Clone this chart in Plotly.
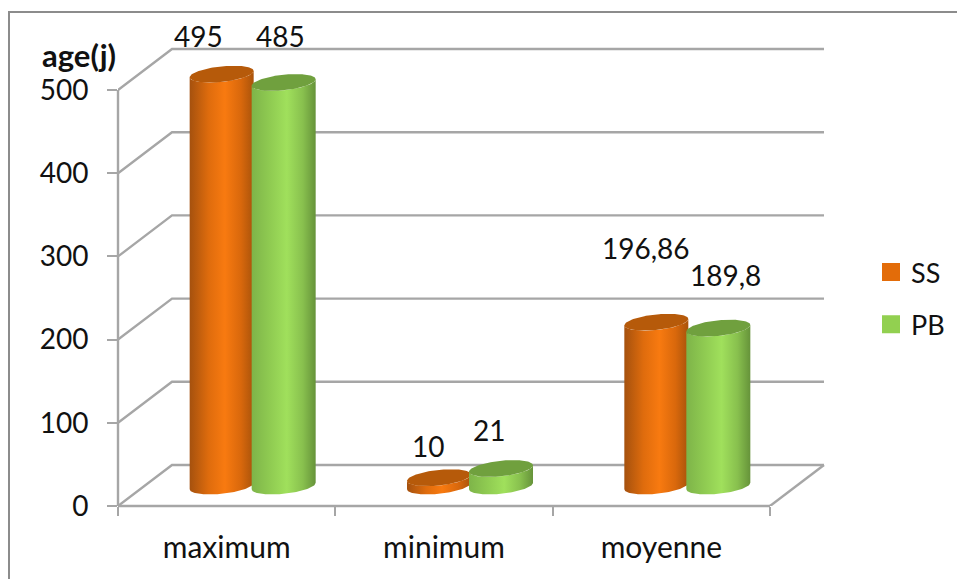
import numpy as np
import plotly.graph_objects as go

# Chart data
categories = ["maximum", "minimum", "moyenne"]
ss_values = [495, 10, 196.86]
pb_values = [485, 21, 189.8]
y_ticks = [0, 100, 200, 300, 400, 500]

# Page geometry (pixels)
W, H = 957, 579
LEFT, RIGHT, TOP, BOTTOM = 118, 834, 40, 506
PX_PER_CAT = (770 - 118) / 3
PX_PER_UNIT = 416 / 500
X_MAX = (RIGHT - LEFT) / PX_PER_CAT
Y_MAX = (BOTTOM - TOP) / PX_PER_UNIT

def dx(px):
    return px / PX_PER_CAT

def dy(px):
    return px / PX_PER_UNIT

def paper_x(px):
    return (px - LEFT) / (RIGHT - LEFT)

def paper_y(py):
    return (BOTTOM - py) / (BOTTOM - TOP)

# Oblique projection of the floor depth
WALL_X, WALL_Y = dx(54), dy(41)
MID_X, MID_Y = dx(26.5), dy(20)

# Cylinder proportions
RX = dx(32)
RY = dy(7.8)
TILT = dy(3.2)

GRID = "#a6a6a6"
FONT = "Lato, Carlito, Calibri, sans-serif"
TEXT = "#111111"

SERIES = [
    dict(name="SS", values=ss_values, swatch="#e36c09", top="#b65a0a", shift=-31.5,
         scale=[[0, "#a5510e"], [0.3, "#df6c0d"], [0.55, "#f87a10"], [0.8, "#d9680c"], [1, "#a9530b"]]),
    dict(name="PB", values=pb_values, swatch="#92d050", top="#70a03e", shift=30.5,
         scale=[[0, "#7eb449"], [0.3, "#90cc52"], [0.55, "#a0e05c"], [0.8, "#88c04e"], [1, "#66933a"]]),
]

fig = go.Figure()

def add_line(xs, ys):
    fig.add_trace(go.Scatter(x=xs, y=ys, mode="lines", showlegend=False, hoverinfo="skip",
                             cliponaxis=False, line=dict(color=GRID, width=2.4)))

# Back wall gridlines with their floor-side returns
for v in y_ticks:
    add_line([0, WALL_X, WALL_X + 3], [v, v + WALL_Y, v + WALL_Y])
# Right floor edge
add_line([3, 3 + WALL_X], [0, WALL_Y])

def ellipse(cx, base, t):
    return cx + RX * np.cos(t), base + RY * np.sin(t) + TILT * np.cos(t)

def add_cylinder(cat_idx, value, s):
    cx = cat_idx + 0.5 + MID_X + dx(s["shift"])
    y0 = MID_Y
    y1 = MID_Y + value
    t_low = np.linspace(np.pi, 2 * np.pi, 60)
    xb, yb = ellipse(cx, y0, t_low)
    xt, yt = ellipse(cx, y1, t_low[::-1])
    fig.add_trace(go.Scatter(
        x=np.concatenate([xb, xt]), y=np.concatenate([yb, yt]),
        mode="lines", fill="toself", line=dict(width=0), cliponaxis=False,
        fillgradient=dict(type="horizontal", colorscale=s["scale"]),
        showlegend=False, hoverinfo="skip"))
    t_all = np.linspace(0, 2 * np.pi, 120)
    xe, ye = ellipse(cx, y1, t_all)
    fig.add_trace(go.Scatter(
        x=xe, y=ye, mode="lines", fill="toself", fillcolor=s["top"], cliponaxis=False,
        line=dict(width=0), showlegend=False, hoverinfo="skip"))

for i in range(len(categories)):
    for s in SERIES:
        add_cylinder(i, s["values"][i], s)

# Legend entries
for s in SERIES:
    fig.add_trace(go.Scatter(x=[None], y=[None], mode="markers", name=s["name"],
                             legendgroup=s["name"],
                             marker=dict(symbol="square", size=16, color=s["swatch"],
                                         line=dict(width=2, color=s["swatch"]))))

# Value labels: pixel offsets from each cylinder's top centre
label_shift = {
    "SS": [(-23, 38), (-11, 32), (-10, 74)],
    "PB": [(-3, 46), (-12, 39), (7, 53)],
}
annotations = []
for s in SERIES:
    for i, v in enumerate(s["values"]):
        ox, oy = label_shift[s["name"]][i]
        annotations.append(dict(
            x=i + 0.5 + MID_X + dx(s["shift"]), y=v + MID_Y, xref="x", yref="y",
            xanchor="center", yanchor="middle",
            xshift=ox, yshift=oy, text=str(v).replace(".", ","), showarrow=False,
            font=dict(family=FONT, size=28, color=TEXT)))
annotations.append(dict(
    x=paper_x(79), y=paper_y(55), xref="paper", yref="paper",
    xanchor="center", yanchor="middle", text="<b>age(j)</b>", showarrow=False,
    font=dict(family=FONT, size=31, color=TEXT)))

fig.update_layout(
    width=W, height=H, autosize=False,
    margin=dict(l=LEFT, r=W - RIGHT, t=TOP, b=H - BOTTOM, pad=0, autoexpand=False),
    paper_bgcolor="white", plot_bgcolor="rgba(0,0,0,0)",
    font=dict(family=FONT, size=28, color=TEXT),
    xaxis=dict(range=[0, X_MAX], showgrid=False, zeroline=False, showline=False,
               tickmode="array", tickvals=[0.5, 1.5, 2.5], ticktext=categories,
               ticks="", ticklabelstandoff=21, fixedrange=True,
               tickfont=dict(family=FONT, size=30, color=TEXT),
               minor=dict(tickmode="array", tickvals=[0, 1, 2, 3], ticks="outside",
                          ticklen=9, tickwidth=2.4, tickcolor=GRID, showgrid=False)),
    yaxis=dict(range=[0, Y_MAX], showgrid=False, zeroline=False, showline=False,
               tickmode="array", tickvals=y_ticks, ticks="outside", ticklen=10,
               tickwidth=2.4, tickcolor=GRID, ticklabelstandoff=13, fixedrange=True),
    legend=dict(x=paper_x(871), y=paper_y(248), xanchor="left", yanchor="top",
                tracegroupgap=14, font=dict(family=FONT, size=27, color=TEXT),
                bgcolor="rgba(0,0,0,0)", itemwidth=30),
    annotations=annotations,
    shapes=[
        # Outer frame
        dict(type="rect", xref="paper", yref="paper",
             x0=paper_x(9), x1=paper_x(W + 10), y0=paper_y(H + 10), y1=paper_y(12),
             line=dict(color="#8c8c8c", width=2), layer="below"),
        # Value axis and front floor edge sit on the plot boundary
        dict(type="line", xref="paper", yref="y", x0=0, x1=0, y0=0, y1=y_ticks[-1],
             line=dict(color=GRID, width=2.4), layer="below"),
        dict(type="line", xref="x", yref="paper", x0=0, x1=3, y0=0, y1=0,
             line=dict(color=GRID, width=2.4), layer="below"),
    ],
)

fig.write_html("out.html", config=dict(displayModeBar=False))
